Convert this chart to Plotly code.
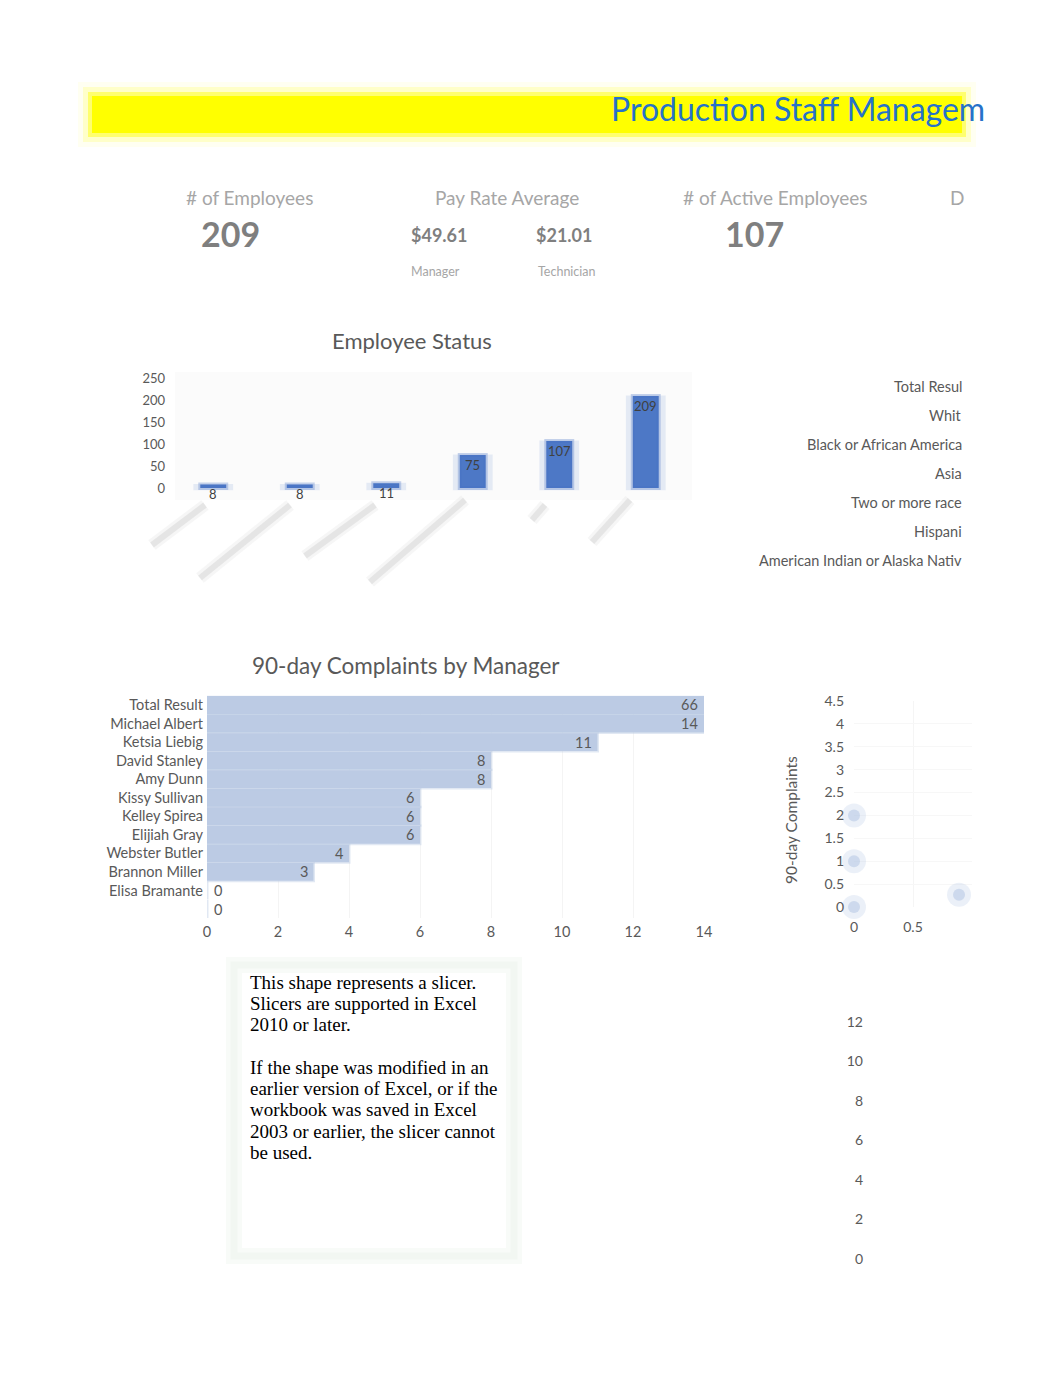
import plotly.graph_objects as go

# ---------------- data ----------------
title_text = "Production Staff Managem"
kpi_headers = ["# of Employees", "Pay Rate Average", "# of Active Employees", "D"]
kpi_employees = 209
kpi_active = 107
pay_rates = ["$49.61", "$21.01"]
pay_roles = ["Manager", "Technician"]

status_categories = ["Future Start", "Leave of Absence", "Terminated for Cause",
                     "Voluntarily Terminated", "Active", "Total Result"]
status_values = [8, 8, 11, 75, 107, 209]
status_ticks = [0, 50, 100, 150, 200, 250]

ethnicity_labels = ["Total Resul", "Whit", "Black or African America", "Asia",
                    "Two or more race", "Hispani", "American Indian or Alaska Nativ"]

managers = ["Total Result", "Michael Albert", "Ketsia Liebig", "David Stanley", "Amy Dunn",
            "Kissy Sullivan", "Kelley Spirea", "Elijiah Gray", "Webster Butler",
            "Brannon Miller", "Elisa Bramante", ""]
complaints = [66, 14, 11, 8, 8, 6, 6, 6, 4, 3, 0, 0]

scatter_x = [0, 0, 0, 0.89]
scatter_y = [2, 1, 0, 0.27]

right_axis_ticks = [0, 2, 4, 6, 8, 10, 12]

slicer_lines = ["This shape represents a slicer.", "Slicers are supported in Excel",
                "2010 or later.", "",
                "If the shape was modified in an", "earlier version of Excel, or if the",
                "workbook was saved in Excel", "2003 or earlier, the slicer cannot",
                "be used."]

# ---------------- page geometry ----------------
W, H, OFF = 1030, 1330, 8
def px(x): return (x - OFF) / W
def py(y): return 1 - (y - OFF) / H

GRAY = "#595959"
LIGHT = "#a6a6a6"
DARK = "#7f7f7f"
FONT = "Lato"

def txt(x, y, s, size, color, xanchor="center", family=FONT, **kw):
    return dict(x=px(x), y=py(y), xref="paper", yref="paper", text=s, showarrow=False,
                xanchor=xanchor, yanchor="middle",
                font=dict(family=family, size=size, color=color), **kw)

fig = go.Figure()

# Employee status bars (soft halo + core)
idx = list(range(len(status_values)))
fig.add_trace(go.Bar(x=idx, y=[v + 6 for v in status_values], base=-5, width=0.46,
                     marker=dict(color="rgba(68,114,196,0.12)", line=dict(width=0)),
                     xaxis="x", yaxis="y", hoverinfo="skip"))
fig.add_trace(go.Bar(x=idx, y=status_values, width=0.30,
                     marker=dict(color="#4d78c6", line=dict(width=4, color="rgba(68,114,196,0.3)")),
                     xaxis="x", yaxis="y"))

# Complaints by manager
midx = list(range(len(managers)))
fig.add_trace(go.Bar(x=complaints, y=midx, orientation="h", width=0.96,
                     marker=dict(color="#bccbe4", line=dict(width=3, color="rgba(188,203,228,0.45)")),
                     xaxis="x2", yaxis="y2"))

# Scatter
fig.add_trace(go.Scatter(x=scatter_x, y=scatter_y, mode="markers", cliponaxis=False,
                         marker=dict(size=24, color="rgba(190,205,232,0.30)"),
                         xaxis="x3", yaxis="y3", hoverinfo="skip"))
fig.add_trace(go.Scatter(x=scatter_x, y=scatter_y, mode="markers", cliponaxis=False,
                         marker=dict(size=12, color="rgba(180,198,228,0.55)"),
                         xaxis="x3", yaxis="y3"))

# Empty axis bottom right
fig.add_trace(go.Scatter(x=[None], y=[None], mode="markers", xaxis="x4", yaxis="y4"))

tickfont13 = dict(family=FONT, size=13, color=GRAY)
tickfont14 = dict(family=FONT, size=14, color=GRAY)
tickfont145 = dict(family=FONT, size=14.5, color=GRAY)

shapes = []
# Banner (blurred yellow)
for pad, col in [(14, "rgba(255,255,120,0.10)"), (9, "rgba(255,255,60,0.22)"),
                 (4, "rgba(255,255,0,0.45)"), (0, "#ffff00")]:
    shapes.append(dict(type="rect", xref="paper", yref="paper",
                       x0=px(92 - pad), x1=px(962 + pad), y0=py(133 + pad), y1=py(96 - pad),
                       fillcolor=col, line=dict(width=0), layer="below"))
# employee chart faint background
shapes.append(dict(type="rect", xref="paper", yref="paper", x0=px(175), x1=px(692),
                   y0=py(500), y1=py(372), fillcolor="rgba(0,0,0,0.015)", line=dict(width=0),
                   layer="below"))
# blurred category label strokes
strokes = [((205, 505), (152, 545)), ((290, 505), (200, 578)), ((375, 505), (305, 556)),
           ((465, 500), (370, 582)), ((545, 505), (532, 520)), ((630, 500), (592, 542))]
for (a, b) in strokes:
    for w, c in [(12, "rgba(215,215,215,0.22)"), (6, "rgba(205,205,205,0.40)")]:
        shapes.append(dict(type="line", xref="paper", yref="paper", x0=px(a[0]), y0=py(a[1]),
                           x1=px(b[0]), y1=py(b[1]), line=dict(width=w, color=c)))
# slicer box (faint soft frame)
for w, c in [(16, "rgba(244,248,244,0.6)"), (7, "rgba(240,246,240,0.8)")]:
    shapes.append(dict(type="rect", xref="paper", yref="paper", x0=px(234), x1=px(514),
                       y0=py(1256), y1=py(965), line=dict(width=w, color=c),
                       fillcolor="rgba(0,0,0,0)", layer="below"))

ann = []
ann.append(txt(987, 108, title_text, 32, "#2672c9", xanchor="right"))
ann.append(txt(249, 198, kpi_headers[0], 19, LIGHT))
ann.append(txt(507, 198, kpi_headers[1], 19, LIGHT))
ann.append(txt(775, 198, kpi_headers[2], 19, LIGHT))
ann.append(txt(957, 198, kpi_headers[3], 19, LIGHT))
ann.append(txt(230, 234, "<b>%d</b>" % kpi_employees, 34, DARK))
ann.append(txt(754, 234, "<b>%d</b>" % kpi_active, 34, DARK))
for xc, s in zip([439, 564], pay_rates):
    ann.append(txt(xc, 235, "<b>%s</b>" % s, 18, DARK))
for xc, s in zip([435, 567], pay_roles):
    ann.append(txt(xc, 271, s, 12.5, LIGHT))

ann.append(txt(412, 340, "Employee Status", 22, GRAY))
for i, v in enumerate(status_values):
    ann.append(dict(x=i, y=v, xref="x", yref="y", text=str(v), showarrow=False,
                    yshift=-10, font=dict(family=FONT, size=13, color="#404040")))

for i, s in enumerate(ethnicity_labels):
    ann.append(txt(964, 386 + i * 29, s, 14.5, GRAY, xanchor="right"))

ann.append(txt(406, 665, "90-day Complaints by Manager", 22.5, GRAY))
for i, v in enumerate(complaints):
    xv = min(v, 14)
    if v > 0:
        ann.append(dict(x=xv, y=i, xref="x2", yref="y2", text=str(v), showarrow=False,
                        xanchor="right", xshift=-4, font=dict(family=FONT, size=14.5, color=GRAY)))
    else:
        ann.append(dict(x=xv, y=i, xref="x2", yref="y2", text=str(v), showarrow=False,
                        xanchor="left", xshift=5, font=dict(family=FONT, size=14.5, color=GRAY)))

ann.append(txt(791, 820, "90-day Complaints", 15.5, GRAY, textangle=-90))

for i, s in enumerate(slicer_lines):
    if s:
        y = 982 + i * 21.3
        ann.append(txt(248, y, s, 19, "#000000", xanchor="left", family="Liberation Serif"))

fig.update_layout(
    width=W, height=H, margin=dict(l=0, r=0, t=0, b=0, autoexpand=False),
    paper_bgcolor="white", plot_bgcolor="rgba(0,0,0,0)",
    showlegend=False, barmode="overlay",
    shapes=shapes, annotations=ann,
    xaxis=dict(domain=[px(170), px(689)], range=[-0.5, 5.5], visible=False, anchor="y"),
    yaxis=dict(domain=[py(491.5), py(378)], range=[-8, 250], tickvals=status_ticks,
               showgrid=False, zeroline=False, showline=False, tickfont=tickfont13,
               ticklabelstandoff=4, anchor="x"),
    xaxis2=dict(domain=[px(207), px(704)], range=[0, 14], dtick=2, tickfont=tickfont145,
                showgrid=True, gridcolor="#f4f4f4", zeroline=False, showline=False,
                ticklabelstandoff=3, anchor="y2"),
    yaxis2=dict(domain=[py(918.3), py(695.7)], range=[11.5, -0.5], tickvals=midx,
                ticktext=managers, tickfont=tickfont145, showgrid=False, zeroline=False,
                ticklabelstandoff=3, anchor="x2"),
    xaxis3=dict(domain=[px(854), px(972)], range=[0, 1], tickvals=[0, 0.5],
                ticktext=["0", "0.5"], tickfont=tickfont14, showgrid=True,
                gridcolor="#f5f5f5", zeroline=False, ticklabelstandoff=10, anchor="y3"),
    yaxis3=dict(domain=[py(907), py(701)], range=[0, 4.5], dtick=0.5, tickfont=tickfont14,
                showgrid=True, gridcolor="#f7f7f7", zeroline=False, ticklabelstandoff=9,
                anchor="x3"),
    xaxis4=dict(domain=[px(868), px(970)], visible=False, anchor="y4"),
    yaxis4=dict(domain=[py(1259), py(1022)], range=[0, 12], tickvals=right_axis_ticks,
                tickfont=tickfont14, showgrid=False, zeroline=False, ticklabelstandoff=4,
                anchor="x4"),
)

fig.write_html("out.html")
